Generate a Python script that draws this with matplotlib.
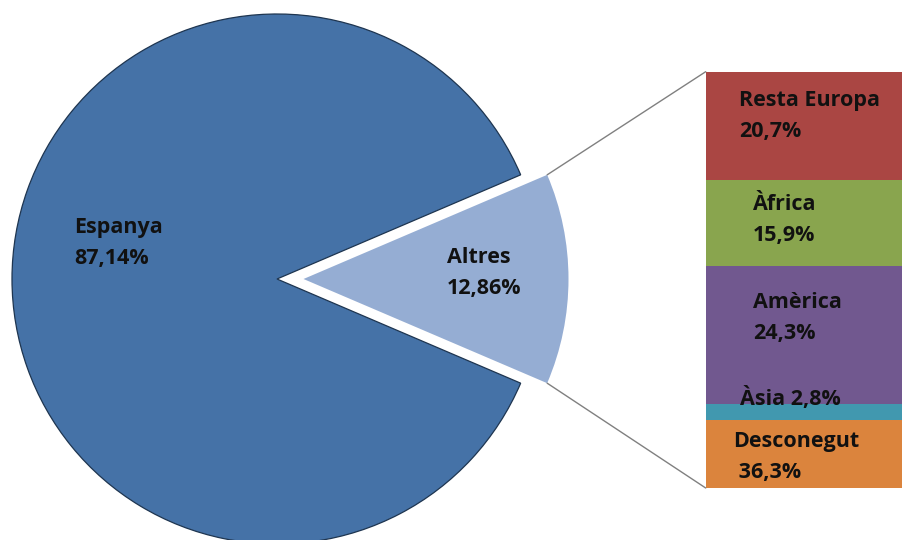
import matplotlib
matplotlib.use("Agg")
import matplotlib.pyplot as plt
import numpy as np
from matplotlib.patches import ConnectionPatch

# pie data
pie_labels = ["Espanya", "Altres"]
pie_values = [87.14, 12.86]
pie_texts = ["87,14%", "12,86%"]
pie_colors = ["#4572A7", "#95ADD3"]

# breakdown of "Altres" (segment sizes as drawn, labels as printed)
bar_labels = ["Resta Europa", "Àfrica", "Amèrica", "Àsia", "Desconegut"]
bar_texts = ["20,7%", "15,9%", "24,3%", "2,8%", "36,3%"]
bar_shares = [26.0, 20.7, 33.1, 3.8, 16.3]
bar_colors = ["#AA4643", "#89A54E", "#71588F", "#4198AF", "#DB843D"]

W, H = 903, 540
plt.rcParams['font.family'] = ['Open Sans', 'DejaVu Sans']

fig = plt.figure(figsize=(W / 100, H / 100), dpi=100)


def frac(x, y):
    # pixel position (from top left) -> figure fraction
    return x / W, 1 - y / H


# pie axes, laid out in pixels
R, CX, CY = 265, 277, 279
x0, x1, y0, y1 = -1.05, 1.35, -1.06, 1.06
ax1 = fig.add_axes([(CX + x0 * R) / W, (H - CY + y0 * R) / H,
                    (x1 - x0) * R / W, (y1 - y0) * R / H])
start = pie_values[1] / 100 * 360 / 2  # "Altres" centred on the right
wedges, _ = ax1.pie(pie_values, colors=pie_colors, startangle=start,
                    explode=[0, 0.1], radius=1)
wedges[0].set_edgecolor("#1E3550")
wedges[0].set_linewidth(0.9)
wedges[1].set_edgecolor("none")
ax1.set_aspect("auto")
ax1.set_xlim(x0, x1)
ax1.set_ylim(y0, y1)
ax1.axis("off")

txt = dict(fontsize=15.5, fontweight="bold", color="#111111",
           linespacing=1.6, va="center", ha="left")
pie_pos = [(74, 243), (447, 273)]
for lab, t, (px, py) in zip(pie_labels, pie_texts, pie_pos):
    fig.text(*frac(px, py), lab + "\n" + t, **txt)

# bar axes
BL, BT, BB = 705.7, 71.7, 488
ax2 = fig.add_axes([BL / W, (H - BB) / H, 230 / W, (BB - BT) / H])
bottom = 0
for share, col in zip(bar_shares, bar_colors):
    ax2.bar(0, share, width=1, bottom=bottom, color=col, align="edge",
            linewidth=0)
    bottom += share
total = sum(bar_shares)
ax2.set_xlim(0, 1)
ax2.set_ylim(total, 0)
ax2.axis("off")

bar_pos = [(739, 116), (753, 220), (753, 318), (740, 399), (733, 457)]
for lab, t, (px, py) in zip(bar_labels, bar_texts, bar_pos):
    if lab == "Àsia":
        s = lab + " " + t
    elif lab == "Desconegut":
        s = lab + "\n " + t
    else:
        s = lab + "\n" + t
    fig.text(*frac(px, py), s, **txt)

# connector lines from the "Altres" wedge to the bar
w = wedges[1]
cx, cy = w.center
for theta, yb in [(w.theta2, 0), (w.theta1, total)]:
    xa = cx + w.r * np.cos(np.radians(theta))
    ya = cy + w.r * np.sin(np.radians(theta))
    con = ConnectionPatch(xyA=(xa, ya), coordsA=ax1.transData,
                          xyB=(0, yb), coordsB=ax2.transData,
                          color="#808080", linewidth=1)
    fig.add_artist(con)

fig.savefig("out.png", dpi=100)
